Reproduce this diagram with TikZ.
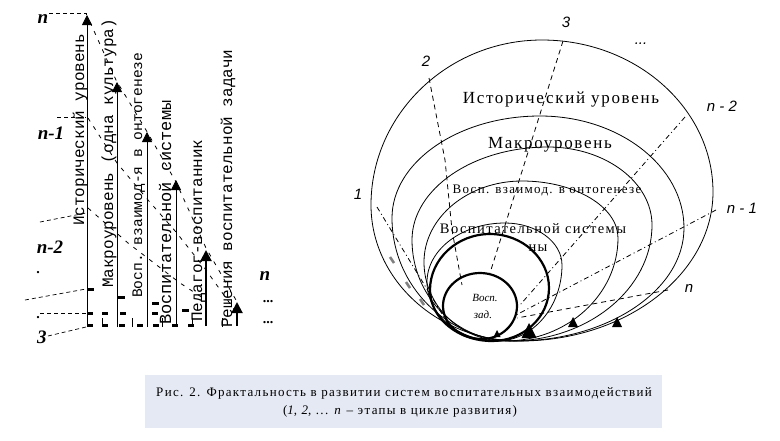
\documentclass[tikz,border=0pt]{standalone}
\usepackage{fontspec}
\setmainfont{Liberation Serif}
\setsansfont{Liberation Sans}
\setmonofont{Liberation Mono}
\newfontfamily\spserif[LetterSpace=10]{Liberation Serif}
\usetikzlibrary{arrows.meta,calc}
\definecolor{capbg}{RGB}{229,233,243}
\newcommand\eggcurve[2][]{%
 \draw[#1] (#2B) .. controls ($(#2B)!0.55!(#2L|-#2B)$) and ($(#2L)!0.55!(#2L|-#2B)$) .. (#2L)
   .. controls ($(#2L)!0.55!(#2L|-#2T)$) and ($(#2T)!0.55!(#2L|-#2T)$) .. (#2T)
   .. controls ($(#2T)!0.55!(#2R|-#2T)$) and ($(#2R)!0.55!(#2R|-#2T)$) .. (#2R)
   .. controls ($(#2R)!0.55!(#2R|-#2B)$) and ($(#2B)!0.55!(#2R|-#2B)$) .. (#2B) -- cycle;}
\newcommand\tri[3]{\fill ({#1-#3/2},#2) -- ({#1+#3/2},#2) -- (#1,{#2-#3}) -- cycle;}
\newcommand\fs[1]{\fontsize{#1}{#1}\selectfont}
\begin{document}
\begin{tikzpicture}[x=1pt,y=-1pt,
  lvl/.style={line width=0.8pt,-{Triangle[width=10pt,length=10pt]}},
  lvlthick/.style={line width=2pt,-{Triangle[width=11pt,length=11pt]}},
  vtext/.style={rotate=90,anchor=base west,inner sep=0pt,font=\ttfamily},
  ldash/.style={line width=0.8pt,dash pattern=on 4pt off 6pt},
  hdash/.style={line width=0.7pt,dash pattern=on 4pt off 3pt},
  tick/.style={line width=3pt},
  curve/.style={line width=0.8pt},
  thickcurve/.style={line width=2.2pt},
  stage/.style={line width=0.8pt,dash pattern=on 5pt off 4pt},
  stagedd/.style={line width=0.8pt,dash pattern=on 5pt off 3pt on 1pt off 3pt},
  lab/.style={font=\sffamily\itshape\fs{15}},
  llab/.style={font=\bfseries\itshape\fs{19}},
  rtext/.style={inner sep=0pt}]
\fill[white] (0,0) rectangle (780,440);
\useasboundingbox (0,0) rectangle (780,440);

% ---------------- left panel ----------------
\coordinate (a1b) at (87,327);  \coordinate (a1t) at (87,15);
\coordinate (a2b) at (117,327); \coordinate (a2t) at (117,82);
\coordinate (a3b) at (147,327); \coordinate (a3t) at (147,132);
\coordinate (a4b) at (176,327); \coordinate (a4t) at (176,180);
\coordinate (a5b) at (206,326); \coordinate (a5t) at (206,250);
\coordinate (a6b) at (237,326); \coordinate (a6t) at (237,302);
\draw[lvl] (a1b) -- (a1t);
\draw[lvl] (a2b) -- (a2t);
\draw[lvl] (a3b) -- (a3t);
\draw[lvl] (a4b) -- (a4t);
\draw[lvlthick] (a5b) -- (a5t);
\draw[lvlthick] (a6b) -- (a6t);

\node[vtext,font=\ttfamily\fs{16}] (t1) at (84,226) {Исторический уровень};
\node[vtext,font=\ttfamily\fs{16}] (t2) at (113,288) {Макроуровень (одна культура)};
\node[vtext,font=\ttfamily\fs{14.6}] (t3) at (142,298) {Восп. взаимод-я в онтогенезе};
\node[vtext,font=\ttfamily\fs{17}] (t4) at (171,325) {Воспитательной системы};
\node[vtext,font=\ttfamily\fs{16}] (t5) at (202,322) {Педагог-воспитанник};
\node[vtext,font=\ttfamily\fs{16}] (t6) at (232,328) {Решения воспитательной задачи};

% level labels
\node[llab] (ln) at (43,19) {n};
\node[llab] (ln1) at (51,133) {n-1};
\node[llab] (ln2) at (50,247) {n-2};
\node[llab] (l3) at (42,337) {3};
\node[font=\bfseries\fs{14}] (dot1) at (38,273) {.};
\node[font=\bfseries\fs{14}] (dot2) at (38,318) {.};
\node[llab] (rn) at (265,276) {n};
\node[font=\bfseries\fs{14}] (rd1) at (268,302) {...};
\node[font=\bfseries\fs{14}] (rd2) at (268,323) {...};

% horizontal dashed level lines
\draw[hdash] (49,13) -- (86,13) -- (86,17);
\draw[hdash] (57,117) -- (86,117);
\draw[hdash] (40,222) -- (86,213);
\draw[hdash] (25,300) -- (86,289);
\draw[hdash] (40,313) -- (86,313);
\draw[hdash] (48,336) -- (86,327);

% thick ticks
\draw[tick] (87,289) -- (94,289);
\draw[tick] (118,297) -- (125,297);
\draw[tick] (152,303) -- (159,303);
\draw[tick] (182,310) -- (189,310);
\foreach \x in {87,102,120,152} \draw[tick] (\x,313) -- ({\x+6},313);
\foreach \x in {87,102,119,137,153,172,188} \draw[tick] (\x,325) -- ({\x+6},325);
\foreach \x in {102,132,162,192,222} \draw[line width=0.8pt] (\x,318) -- (\x,327);

% diagonal dashed connections
\draw[ldash] (90,22) -- (116,80) -- (146,130) -- (176,182) -- (206,248) -- (236,300);
\draw[ldash] (88,118) -- (117,163) -- (148,200) -- (176,232) -- (206,270) -- (236,312);
\draw[ldash] (88,208) -- (128,243) -- (180,283) -- (206,300);

% ---------------- right panel ----------------
\coordinate (c1B) at (520,341); \coordinate (c1L) at (371,205); \coordinate (c1T) at (542,40);  \coordinate (c1R) at (713,192);
\coordinate (c2B) at (515,341); \coordinate (c2L) at (392,218); \coordinate (c2T) at (540,116); \coordinate (c2R) at (684,228);
\coordinate (c3B) at (510,341); \coordinate (c3L) at (412,240); \coordinate (c3T) at (548,147); \coordinate (c3R) at (652,225);
\coordinate (c4B) at (505,341); \coordinate (c4L) at (424,262); \coordinate (c4T) at (522,181); \coordinate (c4R) at (618,238);
\coordinate (c5B) at (497,341); \coordinate (c5L) at (427,282); \coordinate (c5T) at (505,223); \coordinate (c5R) at (562,265);
\coordinate (c6B) at (492,341); \coordinate (c6L) at (430,290); \coordinate (c6T) at (490,234); \coordinate (c6R) at (549,288);
\coordinate (c7B) at (482,339); \coordinate (c7L) at (443,306); \coordinate (c7T) at (480,273); \coordinate (c7R) at (517,306);

\eggcurve[curve]{c1}
\eggcurve[curve]{c2}
\eggcurve[curve]{c3}
\eggcurve[curve]{c4}
\eggcurve[curve]{c5}
\eggcurve[thickcurve]{c6}
\eggcurve[thickcurve]{c7}

% stage lines
\coordinate (s1a) at (377,207); \coordinate (s1b) at (447,322);
\coordinate (s2a) at (429,78);  \coordinate (s2b) at (462,285);
\coordinate (s3a) at (563,41);  \coordinate (s3b) at (490,273);
\coordinate (s4a) at (685,117); \coordinate (s4b) at (520,305);
\coordinate (s5a) at (716,210); \coordinate (s5b) at (516,315);
\coordinate (s6a) at (668,290); \coordinate (s6b) at (517,318);
\draw[stagedd] (s1a) -- (s1b);
\draw[stage] (s2a) -- (445,160) -- (452,230) -- (s2b);
\draw[stage] (s3a) -- (s3b);
\draw[stagedd] (s4a) -- (s4b);
\draw[stagedd] (s5a) -- (s5b);
\draw[stage] (s6a) -- (s6b);

% grey marks
\foreach \x/\y in {392/260,408/285,422/302}
  \draw[gray,line width=2.5pt] ({\x-2},{\y-3}) -- ({\x+2},{\y+3});

% bottom arrow heads
\tri{497}{337}{7}
\tri{529}{338}{15}
\tri{573}{327}{10}
\tri{617}{327}{10}

% stage labels
\node[lab] (r1) at (358,194) {1};
\node[lab] (r2) at (426,61) {2};
\node[lab] (r3) at (566,22) {3};
\node[lab] (rdots) at (641,44) {...};
\node[lab] (rn2) at (722,106) {n - 2};
\node[lab] (rn1) at (742,208) {n - 1};
\node[lab] (rnn) at (689,288) {n};

% level texts
\node[rtext,font=\spserif\fs{17}] (h1) at (561,100) {Исторический уровень};
\node[rtext,font=\spserif\fs{17}] (h2) at (550,145) {Макроуровень};
\node[rtext,font=\spserif\fs{13}] (h3) at (547,190) {Восп. взаимод. в онтогенезе};
\node[rtext,font=\spserif\fs{14.5}] (h4) at (533,229) {Воспитательной системы};
\node[rtext,font=\spserif\fs{14.5}] (h5) at (538,248) {ны};
\node[rtext,font=\itshape\fs{11}] (h6) at (485,298) {Восп.};
\node[rtext,font=\itshape\fs{11}] (h7) at (483,315) {зад.};

% ---------------- caption ----------------
\fill[capbg] (145,375) rectangle (662,428);
\node[rtext,font=\spserif\fs{13}] (cap1) at (404,393) {Рис. 2. Фрактальность в развитии систем воспитательных взаимодействий};
\node[rtext,font=\spserif\fs{13}] (cap2) at (400,411) {(\textit{1}, \textit{2}, ... \textit{n} – этапы в цикле развития)};
\end{tikzpicture}
\end{document}
